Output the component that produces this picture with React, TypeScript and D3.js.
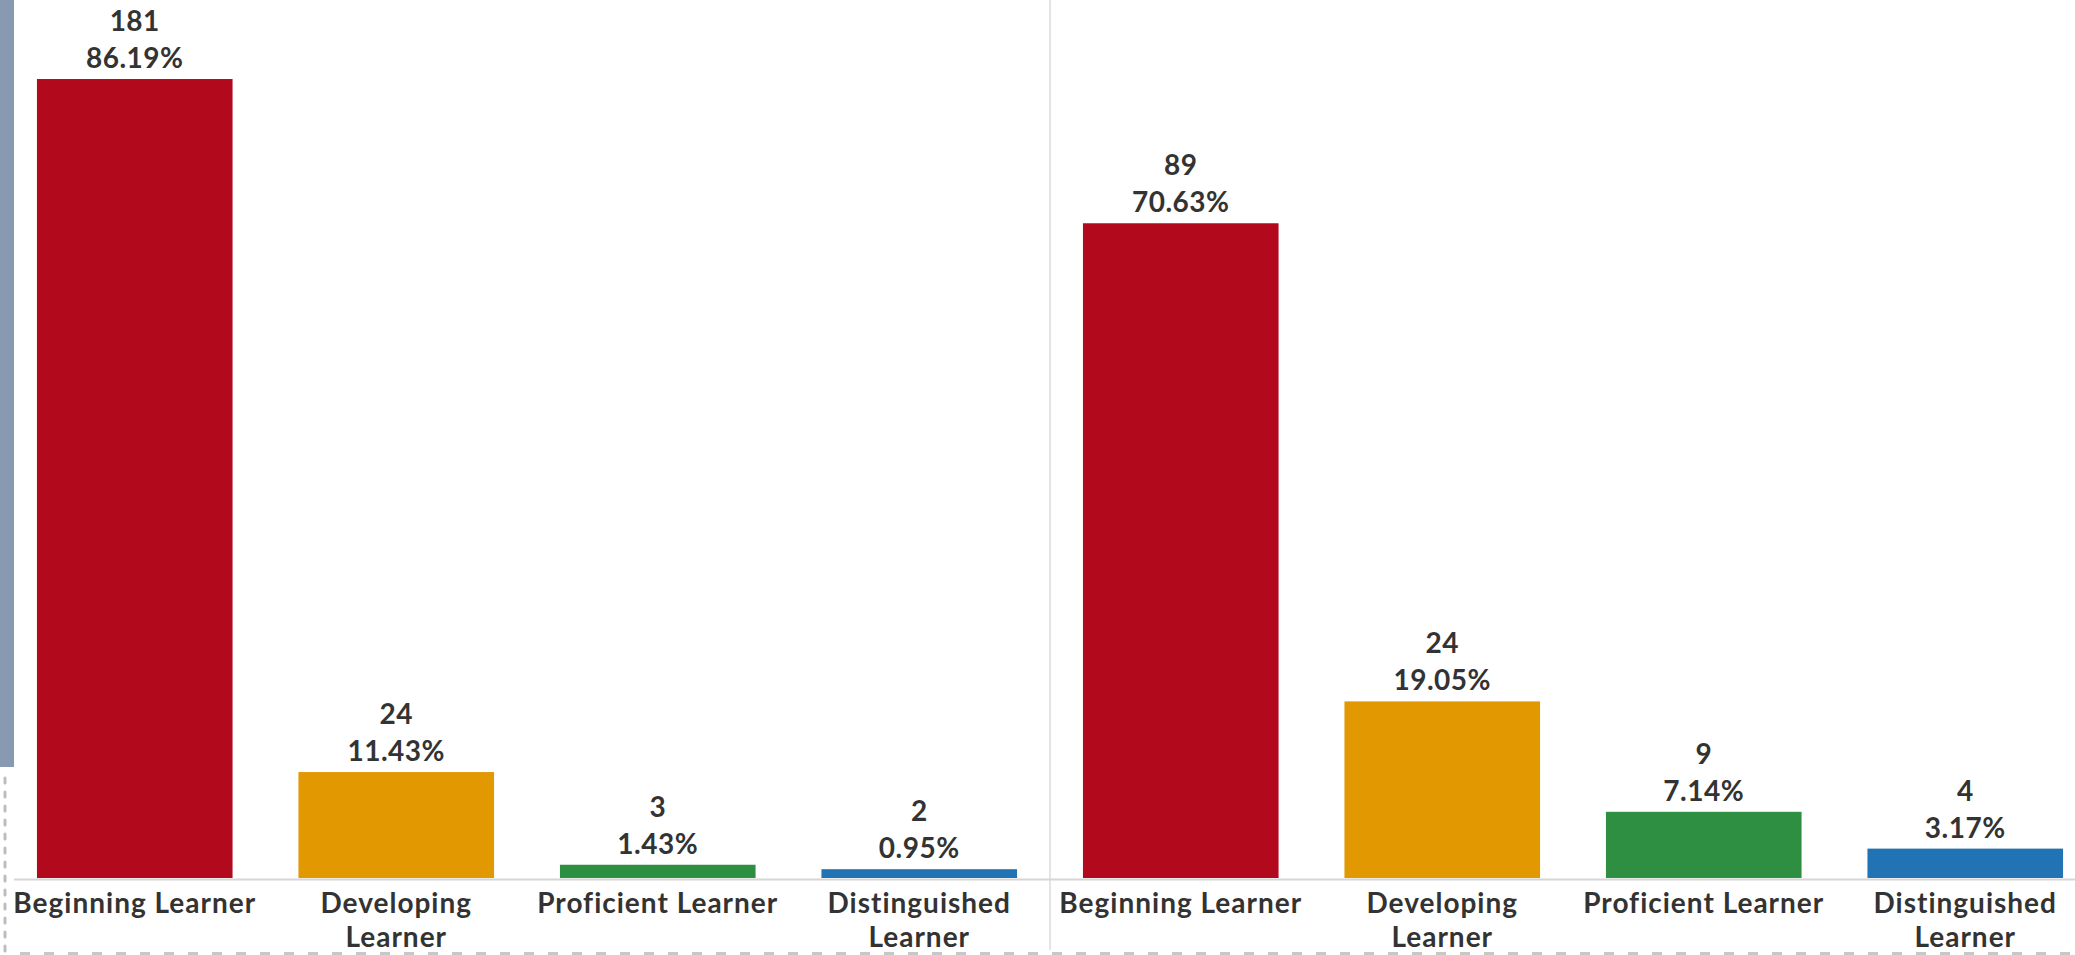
import React from "react";
import * as d3 from "d3";

const categories = ["Beginning Learner", "Developing Learner", "Proficient Learner", "Distinguished Learner"];
const wrappedCategories = ["Developing Learner", "Distinguished Learner"];
const colors = ["#b3091d", "#e29800", "#2e8e42", "#2173b3"];

const panel1Counts = [181, 24, 3, 2];
const panel1Percents = [86.19, 11.43, 1.43, 0.95];
const panel2Counts = [89, 24, 9, 4];
const panel2Percents = [70.63, 19.05, 7.14, 3.17];

const panels = [
  { counts: panel1Counts, percents: panel1Percents },
  { counts: panel2Counts, percents: panel2Percents },
];

const W = 2075;
const H = 955;
const BASE = 878;
const PANEL_W = 1046;
const PANEL_X0 = 4;
const FONT = "Lato, 'Open Sans', sans-serif";
const TEXT = "#333333";

export default function App() {
  const y = d3.scaleLinear().domain([0, 100]).range([BASE, BASE - 927]);

  return (
    <svg
      width={W}
      height={H}
      style={{ position: "absolute", left: 0, top: 0, background: "#ffffff" }}
    >
      <rect x={0} y={0} width={W} height={H} fill="#ffffff" />
      {/* left strip */}
      <rect x={0} y={0} width={14} height={767} fill="#8899b2" />
      <line x1={5} x2={5} y1={778} y2={955} stroke="#bdbdbd" strokeWidth={3} strokeDasharray="5 9" strokeLinecap="round" />
      {/* divider */}
      <line x1={PANEL_X0 + PANEL_W} x2={PANEL_X0 + PANEL_W} y1={0} y2={950} stroke="#e4e4e4" strokeWidth={2} />
      {/* baseline */}
      <line x1={14} x2={W} y1={BASE + 1.5} y2={BASE + 1.5} stroke="#d6d6d6" strokeWidth={2} />
      {/* faint cut-off row at bottom */}
      <line x1={20} x2={W} y1={953.5} y2={953.5} stroke="#c8c8c8" strokeWidth={3} strokeDasharray="10 14" />
      {panels.map((p, pi) => {
        const x0 = PANEL_X0 + pi * PANEL_W;
        const x = d3
          .scaleBand<string>()
          .domain(categories)
          .range([x0, x0 + PANEL_W])
          .paddingInner(0.252)
          .paddingOuter(0.126);
        return (
          <g key={pi}>
            {categories.map((c, i) => {
              const bx = x(c) as number;
              const bw = x.bandwidth();
              const top = y(p.percents[i]);
              const cx = bx + bw / 2;
              const lines = wrappedCategories.includes(c) ? c.split(" ") : [c];
              return (
                <g key={c}>
                  <rect x={bx} y={top} width={bw} height={BASE - top} fill={colors[i]} />
                  <text x={cx} y={top - 48} textAnchor="middle" fontFamily={FONT} fontWeight={700} fontSize={28} fill={TEXT} letterSpacing={0.5}>
                    {p.counts[i]}
                  </text>
                  <text x={cx} y={top - 11} textAnchor="middle" fontFamily={FONT} fontWeight={700} fontSize={28} fill={TEXT} letterSpacing={0.5}>
                    {p.percents[i].toFixed(2)}%
                  </text>
                  <text x={cx} y={913} textAnchor="middle" fontFamily={FONT} fontWeight={700} fontSize={28} fill={TEXT} letterSpacing={1}>
                    {lines.map((l, li) => (
                      <tspan key={li} x={cx} dy={li === 0 ? 0 : 34}>
                        {l}
                      </tspan>
                    ))}
                  </text>
                </g>
              );
            })}
          </g>
        );
      })}
    </svg>
  );
}
